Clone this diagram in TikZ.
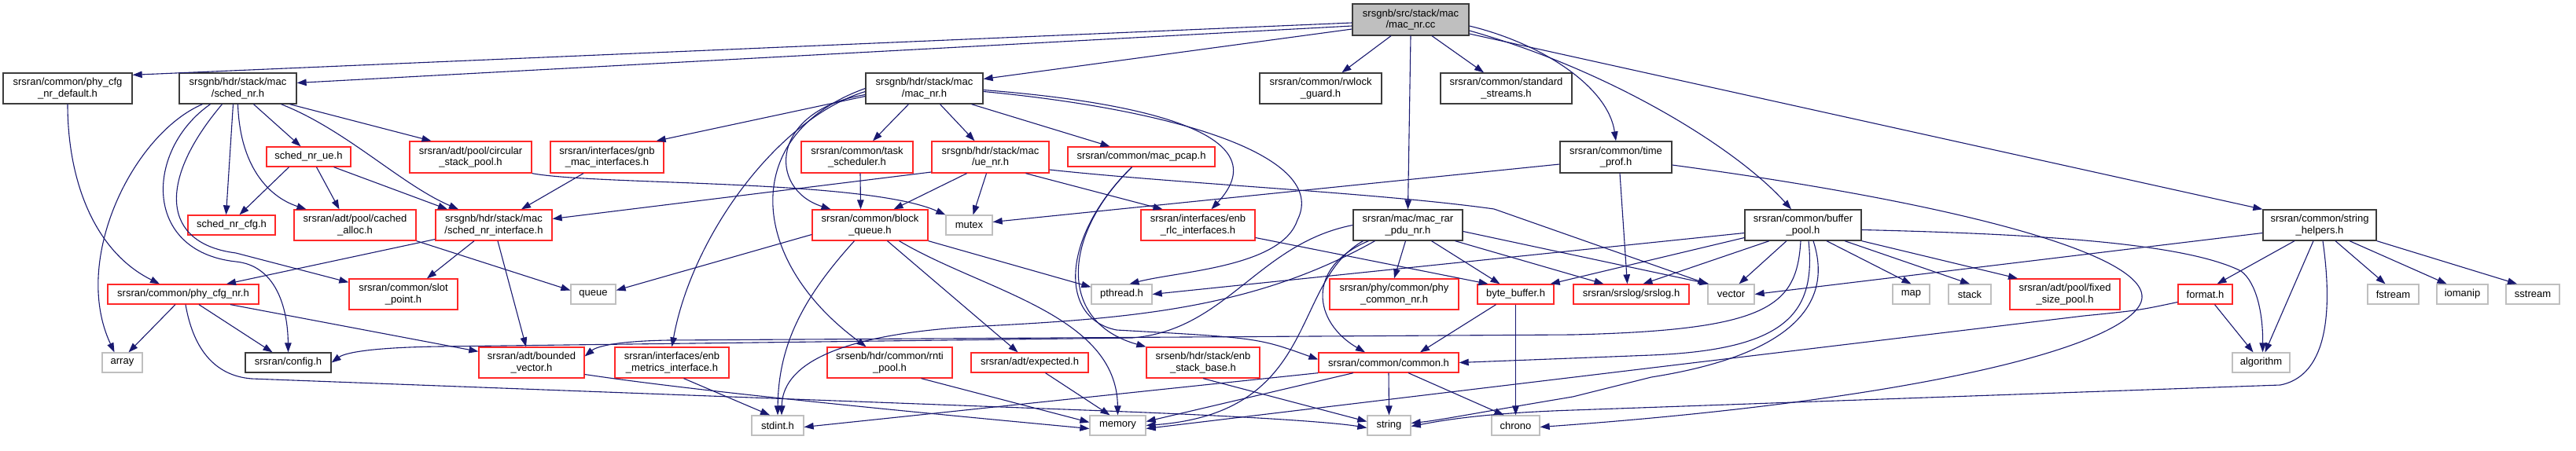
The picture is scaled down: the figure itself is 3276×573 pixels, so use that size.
\documentclass[tikz,border=0pt]{standalone}
\usepackage{fontspec}
\setmainfont{Liberation Sans}
\usetikzlibrary{arrows.meta}
\definecolor{edgec}{RGB}{25,25,112}
\definecolor{redb}{RGB}{255,40,40}
\definecolor{grayb}{RGB}{191,191,191}
\definecolor{blackb}{RGB}{60,60,60}
\definecolor{fillc}{RGB}{191,191,191}
\begin{document}
\begin{tikzpicture}[x=1pt,y=-1pt,
 bx/.style={draw, line width=1.3pt, inner sep=0pt, align=center, font=\fontsize{13}{14.5}\selectfont, fill=white},
 bk/.style={bx, draw=blackb},
 rd/.style={bx, draw=redb},
 gr/.style={bx, draw=grayb},
 e/.style={draw=edgec, line width=1.1pt, -{Triangle[length=12pt,width=8.5pt]}},
]
\fill[white] (0,0) rectangle (3276,573);
\useasboundingbox (0,0) rectangle (3276,573);
% ---------- nodes ----------
\node[bk, fill=fillc, minimum width=148pt, minimum height=40pt] (cc) at (1794,25) {srsgnb/src/stack/mac\\/mac\_nr.cc};
\node[bk, minimum width=164pt, minimum height=39pt] (pcfgdef) at (86,112.5) {srsran/common/phy\_cfg\\\_nr\_default.h};
\node[bk, minimum width=149pt, minimum height=39pt] (schednr) at (302.5,112.5) {srsgnb/hdr/stack/mac\\/sched\_nr.h};
\node[bk, minimum width=149pt, minimum height=39pt] (macnrh) at (1175.5,112.5) {srsgnb/hdr/stack/mac\\/mac\_nr.h};
\node[bk, minimum width=155pt, minimum height=39pt] (rwlock) at (1679.5,112.5) {srsran/common/rwlock\\\_guard.h};
\node[bk, minimum width=167pt, minimum height=39pt] (stdstreams) at (1915.5,112.5) {srsran/common/standard\\\_streams.h};
\node[bk, minimum width=142pt, minimum height=40pt] (timeprof) at (2055,200) {srsran/common/time\\\_prof.h};
\node[bk, minimum width=148pt, minimum height=39pt] (bufpool) at (2293,286.5) {srsran/common/buffer\\\_pool.h};
\node[bk, minimum width=144pt, minimum height=39pt] (strhelp) at (2950,286.5) {srsran/common/string\\\_helpers.h};
\node[bk, minimum width=139pt, minimum height=39pt] (macrar) at (1790.5,286.5) {srsran/mac/mac\_rar\\\_pdu\_nr.h};
\node[rd, minimum width=107pt, minimum height=25pt] (schedue) at (392.5,199.5) {sched\_nr\_ue.h};
\node[rd, minimum width=155pt, minimum height=40pt] (circpool) at (598.5,200) {srsran/adt/pool/circular\\\_stack\_pool.h};
\node[rd, minimum width=144pt, minimum height=40pt] (gnbmac) at (772,200) {srsran/interfaces/gnb\\\_mac\_interfaces.h};
\node[rd, minimum width=142pt, minimum height=40pt] (taskq) at (1090,200) {srsran/common/task\\\_scheduler.h};
\node[rd, minimum width=149pt, minimum height=40pt] (uenr) at (1259.5,200) {srsgnb/hdr/stack/mac\\/ue\_nr.h};
\node[rd, minimum width=187pt, minimum height=25pt] (macpcap) at (1451.5,199.5) {srsran/common/mac\_pcap.h};
\node[rd, minimum width=111pt, minimum height=25pt] (schedcfg) at (294.5,286.5) {sched\_nr\_cfg.h};
\node[rd, minimum width=155pt, minimum height=39pt] (cached) at (451.5,286.5) {srsran/adt/pool/cached\\\_alloc.h};
\node[rd, minimum width=148pt, minimum height=39pt] (schedif) at (628,286.5) {srsgnb/hdr/stack/mac\\/sched\_nr\_interface.h};
\node[rd, minimum width=147pt, minimum height=39pt] (blockq) at (1106.5,286.5) {srsran/common/block\\\_queue.h};
\node[gr, minimum width=59pt, minimum height=25pt] (mutex) at (1232.5,286.5) {mutex};
\node[rd, minimum width=145pt, minimum height=39pt] (rlcif) at (1523.5,286.5) {srsran/interfaces/enb\\\_rlc\_interfaces.h};
\node[rd, minimum width=192pt, minimum height=25pt] (pcfgnr) at (233,374.5) {srsran/common/phy\_cfg\_nr.h};
\node[rd, minimum width=138pt, minimum height=39pt] (slotpt) at (513,374.5) {srsran/common/slot\\\_point.h};
\node[gr, minimum width=57pt, minimum height=25pt] (queue) at (754.5,374.5) {queue};
\node[gr, minimum width=77pt, minimum height=25pt] (pthread) at (1426.5,374.5) {pthread.h};
\node[rd, minimum width=164pt, minimum height=39pt] (phycommon) at (1773,374.5) {srsran/phy/common/phy\\\_common\_nr.h};
\node[rd, minimum width=97pt, minimum height=25pt] (bytebuf) at (1927.5,374.5) {byte\_buffer.h};
\node[rd, minimum width=147pt, minimum height=25pt] (srslog) at (2074.5,374.5) {srsran/srslog/srslog.h};
\node[gr, minimum width=59pt, minimum height=25pt] (vector) at (2201.5,374.5) {vector};
\node[gr, minimum width=47pt, minimum height=25pt] (map) at (2430.5,374.5) {map};
\node[gr, minimum width=54pt, minimum height=25pt] (stack) at (2505,374.5) {stack};
\node[rd, minimum width=140pt, minimum height=39pt] (fixedpool) at (2626,374.5) {srsran/adt/pool/fixed\\\_size\_pool.h};
\node[rd, minimum width=69pt, minimum height=25pt] (format) at (2804.5,374.5) {format.h};
\node[gr, minimum width=65pt, minimum height=25pt] (fstream) at (3043.5,374.5) {fstream};
\node[gr, minimum width=65pt, minimum height=25pt] (iomanip) at (3131.5,374.5) {iomanip};
\node[gr, minimum width=68pt, minimum height=25pt] (sstream) at (3221,374.5) {sstream};
\node[gr, minimum width=51pt, minimum height=25pt] (array) at (155.5,461.5) {array};
\node[bk, minimum width=109pt, minimum height=25pt] (config) at (366.5,461.5) {srsran/config.h};
\node[rd, minimum width=134pt, minimum height=39pt] (boundvec) at (676,461.5) {srsran/adt/bounded\\\_vector.h};
\node[rd, minimum width=145pt, minimum height=39pt] (enbmetrics) at (854.5,461.5) {srsran/interfaces/enb\\\_metrics\_interface.h};
\node[rd, minimum width=159pt, minimum height=39pt] (rntipool) at (1131.5,461.5) {srsenb/hdr/common/rnti\\\_pool.h};
\node[rd, minimum width=149pt, minimum height=25pt] (expected) at (1309.5,461.5) {srsran/adt/expected.h};
\node[rd, minimum width=144pt, minimum height=39pt] (stackbase) at (1530,461.5) {srsenb/hdr/stack/enb\\\_stack\_base.h};
\node[rd, minimum width=178pt, minimum height=25pt] (common) at (1766,461.5) {srsran/common/common.h};
\node[gr, minimum width=73pt, minimum height=25pt] (algorithm) at (2875.5,461.5) {algorithm};
\node[gr, minimum width=66pt, minimum height=25pt] (stdint) at (989,541.5) {stdint.h};
\node[gr, minimum width=71pt, minimum height=25pt] (memory) at (1421.5,541.5) {memory};
\node[gr, minimum width=55pt, minimum height=25pt] (string) at (1766.5,541.5) {string};
\node[gr, minimum width=61pt, minimum height=25pt] (chrono) at (1927.5,541.5) {chrono};
% ---------- edges ----------
% mac_nr.cc
\draw[e] ([yshift=-4pt]cc.west) -- ([yshift=-3pt]pcfgdef.north east);
\draw[e] ([yshift=-8pt]cc.west) -- ([yshift=7pt]schednr.east);
\draw[e] ([yshift=-12pt]cc.west) -- ([yshift=12pt]macnrh.east);
\draw[e] ([xshift=-25pt]cc.south) -- (rwlock);
\draw[e] ([xshift=27pt]cc.south) -- (stdstreams);
\draw[e] (cc.south) -- (macrar.north);
\draw[e] ([yshift=-8pt]cc.east) .. controls (1960,55) and (2045,110) .. (timeprof.north);
\draw[e] ([yshift=-14pt]cc.east) .. controls (2050,90) and (2210,190) .. ([xshift=-15pt]bufpool.north);
\draw[e] ([yshift=-18pt]cc.east) -- (strhelp.north west);
% phy_cfg_nr_default
\draw[e] (pcfgdef.south) .. controls (86,230) and (120,320) .. ([xshift=-30pt]pcfgnr.north);
% sched_nr.h
\draw[e] ([xshift=-45pt]schednr.south) .. controls (170,170) and (90,330) .. ([xshift=-10pt]array.north);
\draw[e] ([xshift=-35pt]schednr.south) .. controls (185,190) and (180,320) .. (300,333) .. controls (350,338) and (366,390) .. (config.north);
\draw[e] ([xshift=-20pt]schednr.south) .. controls (200,230) and (205,310) .. (300,322) -- ([yshift=-5pt]slotpt.north west);
\draw[e] ([xshift=-6pt]schednr.south) -- ([xshift=-7pt]schedcfg.north);
\draw[e] (schednr.south) .. controls (305,210) and (340,250) .. ([xshift=-62pt]cached.north);
\draw[e] ([xshift=20pt]schednr.south) -- ([xshift=-10pt]schedue.north);
\draw[e] ([xshift=55pt]schednr.south) .. controls (440,165) and (510,235) .. ([xshift=-45pt]schedif.north);
\draw[e] ([xshift=66pt]schednr.south) -- ([xshift=-50pt]circpool.north);
% sched_nr_ue.h
\draw[e] ([xshift=-25pt]schedue.south) -- ([xshift=10pt]schedcfg.north);
\draw[e] ([xshift=10pt]schedue.south) -- ([xshift=-20pt]cached.north);
\draw[e] ([xshift=32pt]schedue.south) -- ([xshift=-59pt]schedif.north);
% cached_alloc / circular pool / gnb mac
\draw[e] (cached.south east) -- ([yshift=5pt]queue.west);
\draw[e] (circpool.south east) .. controls (760,236) and (1100,228) .. (mutex.north west);
\draw[e] ([xshift=-30pt]gnbmac.south) -- ([xshift=35pt]schedif.north);
% sched_nr_interface
\draw[e] ([yshift=-18pt]schedif.west) -- ([xshift=55pt]pcfgnr.north);
\draw[e] ([xshift=-25pt]schedif.south) -- ([xshift=30pt]slotpt.north);
\draw[e] ([xshift=5pt]schedif.south) -- ([xshift=-7pt]boundvec.north);
% phy_cfg_nr
\draw[e] ([xshift=-10pt]pcfgnr.south) -- ([xshift=8pt]array.north);
\draw[e] ([xshift=20pt]pcfgnr.south) -- ([xshift=-20pt]config.north);
\draw[e] ([xshift=60pt]pcfgnr.south) -- ([yshift=-6pt]boundvec.north west);
\draw[e] ([xshift=3pt]pcfgnr.south) .. controls (245,440) and (270,478) .. (320,482) -- (1380,522) .. controls (1600,530) and (1700,538) .. ([yshift=-3pt]string.west);
% enb_metrics
\draw[e] ([xshift=15pt]enbmetrics.south) -- ([xshift=-10pt]stdint.north);
% mac_nr.h
\draw[e] ([yshift=-10pt]macnrh.west) -- ([xshift=-10pt]gnbmac.north east);
\draw[e] ([yshift=-8pt]macnrh.west) .. controls (980,140) and (975,240) .. ([xshift=-50pt]blockq.north);
\draw[e] ([yshift=-4pt]macnrh.west) .. controls (990,150) and (880,300) .. (enbmetrics.north);
\draw[e] (macnrh.west) .. controls (940,170) and (950,330) .. ([xshift=-30pt]rntipool.north);
\draw[e] ([xshift=-20pt]macnrh.south) -- ([xshift=20pt]taskq.north);
\draw[e] ([xshift=20pt]macnrh.south) -- ([xshift=-20pt]uenr.north);
\draw[e] ([xshift=60pt]macnrh.south) -- ([xshift=-40pt]macpcap.north);
\draw[e] ([yshift=-2pt]macnrh.east) .. controls (1450,130) and (1630,170) .. ([xshift=17pt]rlcif.north);
\draw[e] ([yshift=-4pt]macnrh.east) .. controls (1500,140) and (1690,200) .. (1650,280) .. controls (1630,340) and (1500,345) .. ([xshift=10pt]pthread.north);
% ue_nr.h
\draw[e] ([yshift=-19pt]uenr.west) -- ([yshift=8pt]schedif.east);
\draw[e] ([xshift=-30pt]uenr.south) -- ([xshift=30pt]blockq.north);
\draw[e] ([xshift=-5pt]uenr.south) -- ([xshift=5pt]mutex.north);
\draw[e] ([xshift=45pt]uenr.south) -- ([xshift=-45pt]rlcif.north);
\draw[e] ([yshift=-16pt]uenr.east) .. controls (1500,234) and (1750,245) .. (1900,266) -- (vector.north west);
% task scheduler
\draw[e] ([xshift=4pt]taskq.south) -- ([xshift=-12pt]blockq.north);
% block_queue
\draw[e] ([yshift=-12pt]blockq.west) -- ([yshift=5pt]queue.east);
\draw[e] ([xshift=-20pt]blockq.south) .. controls (1020,380) and (990,440) .. (stdint.north);
\draw[e] (blockq.south east) -- ([yshift=-4pt]pthread.north west);
\draw[e] ([xshift=22pt]blockq.south) -- ([xshift=-15pt]expected.north);
\draw[e] ([xshift=37pt]blockq.south) .. controls (1250,370) and (1420,400) .. (memory.north);
% mac_pcap
\draw[e] ([xshift=-12pt]macpcap.south) .. controls (1350,300) and (1345,410) .. (stackbase.north west);
\draw[e] ([xshift=-12pt]macpcap.south) .. controls (1350,300) and (1345,405) .. (1420,420) .. controls (1600,430) .. ([yshift=4pt]common.west);
% enb_rlc_interfaces
\draw[e] ([yshift=-16pt]rlcif.east) -- ([xshift=-35pt]bytebuf.north);
% mac_rar_pdu_nr
\draw[e] ([xshift=-3pt]macrar.south) -- (phycommon.north);
\draw[e] ([xshift=30pt]macrar.south) -- ([xshift=-20pt]bytebuf.north);
\draw[e] ([xshift=60pt]macrar.south) -- ([xshift=-35pt]srslog.north);
\draw[e] ([yshift=-8pt]macrar.east) -- ([xshift=2pt]vector.north west);
\draw[e] ([xshift=-50pt]macrar.south) .. controls (1660,340) and (1670,410) .. ([xshift=-30pt]common.north);
\draw[e] ([xshift=-57pt]macrar.south) .. controls (1640,360) and (1680,525) .. (memory.east);
\draw[e] ([xshift=-42pt]macrar.south) .. controls (1600,390) and (1450,405) .. (1250,415) .. controls (1050,425) and (995,470) .. ([xshift=5pt]stdint.north);
\draw[e] (macrar.west) .. controls (1600,310) and (1560,420) .. (1440,430) -- (560,441) .. controls (480,442) and (440,448) .. (config.east);
% buffer_pool
\draw[e] ([xshift=-3pt]bufpool.south) .. controls (2285,390) and (2250,420) .. (2000,426) -- (850,433) .. controls (790,434) and (760,440) .. ([yshift=8pt]boundvec.east);
\draw[e] ([xshift=7pt]bufpool.south) .. controls (2310,400) and (2270,445) .. (2100,452) -- (common.east);
\draw[e] ([xshift=13pt]bufpool.south) .. controls (2330,380) and (2290,450) .. (2100,480) -- (2000,505) .. controls (1880,525) and (1830,535) .. ([yshift=3pt]string.east);
\draw[e] ([xshift=-43pt]bufpool.south) -- ([xshift=15pt]srslog.north);
\draw[e] ([xshift=-21pt]bufpool.south) -- ([xshift=10pt]vector.north);
\draw[e] ([xshift=30pt]bufpool.south) -- (map.north);
\draw[e] ([xshift=53pt]bufpool.south) -- (stack.north);
\draw[e] (bufpool.south east) -- ([xshift=-60pt]fixedpool.north);
\draw[e] ([yshift=-6pt]bufpool.east) .. controls (2600,298) and (2780,310) .. (2850,345) .. controls (2870,360) and (2878,400) .. ([xshift=2pt]algorithm.north);
\draw[e] ([yshift=-10pt]bufpool.west) -- (pthread.east);
\draw[e] ([yshift=-16pt]bufpool.west) -- ([xshift=-5pt]bytebuf.north east);
% byte_buffer
\draw[e] ([xshift=-25pt]bytebuf.south) -- ([xshift=40pt]common.north);
\draw[e] (bytebuf.south) -- (chrono.north);
% common.h
\draw[e] (common.south) -- (string.north);
\draw[e] ([xshift=25pt]common.south) -- ([xshift=-15pt]chrono.north);
\draw[e] (common.south west) -- ([yshift=-2pt]stdint.east);
\draw[e] ([xshift=-45pt]common.south) -- ([yshift=5pt]memory.east);
% enb_stack_base, rnti_pool, expected, bounded_vector
\draw[e] (stackbase.south) -- ([yshift=5pt]string.west);
\draw[e] ([xshift=40pt]rntipool.south) -- ([yshift=4pt]memory.west);
\draw[e] ([xshift=20pt]expected.south) -- ([xshift=-10pt]memory.north);
\draw[e] ([yshift=-15pt]boundvec.east) .. controls (900,500) and (1200,528) .. ([yshift=-4pt]memory.west);
% format.h
\draw[e] ([xshift=12pt]format.south) -- ([xshift=-10pt]algorithm.north);
\draw[e] ([yshift=-10pt]format.west) .. controls (2720,395) .. (2650,402) -- ([yshift=-4pt]memory.east);
% string_helpers
\draw[e] ([xshift=-32pt]strhelp.south) -- ([xshift=15pt]format.north);
\draw[e] ([xshift=-8pt]strhelp.south) -- ([xshift=5pt]algorithm.north);
\draw[e] ([xshift=20pt]strhelp.south) -- ([xshift=-10pt]fstream.north);
\draw[e] ([xshift=38pt]strhelp.south) -- ([xshift=-20pt]iomanip.north);
\draw[e] (strhelp.south east) -- ([xshift=-20pt]sstream.north);
\draw[e] ([yshift=-10pt]strhelp.west) -- (vector.east);
\draw[e] ([xshift=4pt]strhelp.south) .. controls (2970,420) and (2950,480) .. (2900,490) -- (2000,522) .. controls (1880,526) and (1830,536) .. ([yshift=-1pt]string.east);
% time_prof
\draw[e] ([yshift=-9pt]timeprof.west) -- ([yshift=4pt]mutex.east);
\draw[e] ([xshift=5pt]timeprof.south) -- ([xshift=-5pt]srslog.north);
\draw[e] ([yshift=-10pt]timeprof.east) .. controls (2500,260) and (2760,330) .. (2720,390) .. controls (2680,450) and (2400,512) .. ([yshift=-2pt]chrono.east);
\end{tikzpicture}
\end{document}
